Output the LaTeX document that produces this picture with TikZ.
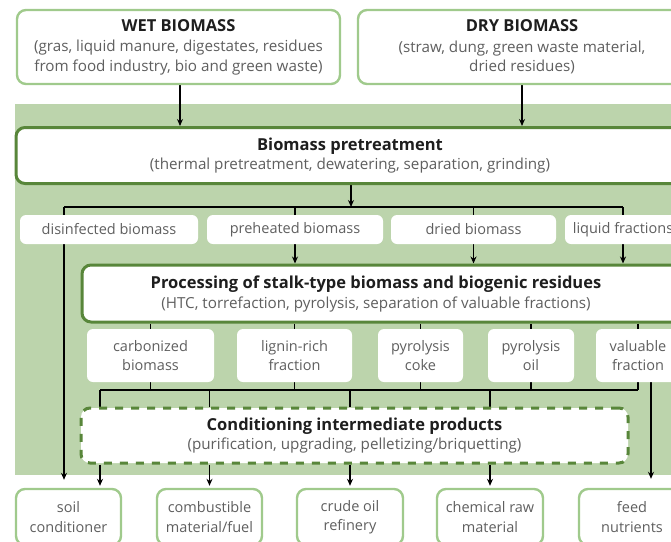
\documentclass[tikz,border=0pt]{standalone}
\usepackage{fontspec}
\setmainfont{Open Sans}
\usetikzlibrary{arrows.meta,calc}
\definecolor{bggreen}{RGB}{188,212,172}
\definecolor{dgreen}{RGB}{88,134,58}
\definecolor{lgreen}{RGB}{160,202,140}
\definecolor{tgray}{RGB}{95,95,95}
\definecolor{tdark}{RGB}{30,30,30}
\pgfdeclarelayer{back}
\pgfdeclarelayer{lines}
\pgfsetlayers{back,lines,main}
\newcommand{\tf}{\fontsize{16.5}{20}\selectfont\bfseries\color{tdark}}
\newcommand{\sfn}{\fontsize{15.2}{19.5}\selectfont\color{tgray}}
\newcommand{\lfn}{\fontsize{14.5}{19.5}\selectfont\color{tgray}}
\begin{document}
\begin{tikzpicture}[x=1pt,y=-1pt,
  srcbox/.style={draw=lgreen, line width=2.4pt, rounded corners=9pt, fill=white, align=center, inner sep=0pt, font=\sfn},
  prodbox/.style={srcbox, font=\lfn},
  mainbox/.style={draw=dgreen, line width=3pt, rounded corners=9pt, fill=white, align=center, inner sep=0pt, font=\sfn},
  condbox/.style={mainbox, dash pattern=on 8pt off 8pt},
  lbl/.style={fill=white, rounded corners=6pt, inner sep=0pt, align=center, font=\lfn},
  conn/.style={draw=black, line width=1.3pt},
  arr/.style={conn, -{Stealth[length=7pt,width=6pt]}}]
\useasboundingbox (0,0) rectangle (671,541);
\clip (0,0) rectangle (671,541);

% source boxes
\node[srcbox, minimum width=323pt, minimum height=74pt] (wet) at (178.5,47)
  {{\tf WET BIOMASS}\\[1pt](gras, liquid manure, digestates, residues\\from food industry, bio and green waste)};
\node[srcbox, minimum width=328pt, minimum height=74pt] (dry) at (522,47)
  {{\tf DRY BIOMASS}\\[1pt](straw, dung, green waste material,\\dried residues)};

% green background
\begin{pgfonlayer}{back}
\fill[bggreen] (15,104) rectangle (700,475);
\end{pgfonlayer}

% pretreatment
\node[mainbox, minimum width=668pt, minimum height=56pt] (pre) at (350,155.5)
  {{\tf Biomass pretreatment}\\(thermal pretreatment, dewatering, separation, grinding)};

% first label row
\node[lbl, minimum width=178pt, minimum height=29pt] (dis) at (109,229.5) {disinfected biomass};
\node[lbl, minimum width=176pt, minimum height=29pt] (preh) at (295,229.5) {preheated biomass};
\node[lbl, minimum width=165pt, minimum height=29pt] (dried) at (473.5,229.5) {dried biomass};
\node[lbl, minimum width=116pt, minimum height=29pt] (liq) at (623,229.5) {liquid fractions};

% processing
\node[mainbox, minimum width=620pt, minimum height=57pt] (proc) at (392,293.5) {};
\node[align=center, inner sep=0pt, font=\sfn] (proct) at (376,294)
  {{\tf Processing of stalk-type biomass and biogenic residues}\\(HTC, torrefaction, pyrolysis, separation of valuable fractions)};

% second label row
\node[lbl, minimum width=127pt, minimum height=53pt] (carb) at (150.5,355.5) {carbonized\\biomass};
\node[lbl, minimum width=115pt, minimum height=53pt] (lig) at (294.5,355.5) {lignin-rich\\fraction};
\node[lbl, minimum width=85pt, minimum height=53pt] (coke) at (420.5,355.5) {pyrolysis\\coke};
\node[lbl, minimum width=86pt, minimum height=53pt] (oil) at (531,355.5) {pyrolysis\\oil};
\node[lbl, minimum width=84pt, minimum height=53pt] (val) at (638,355.5) {valuable\\fraction};

% conditioning
\node[condbox, minimum width=547pt, minimum height=55pt] (cond) at (354.5,435.5)
  {{\tf Conditioning intermediate products}\\(purification, upgrading, pelletizing/briquetting)};

% products
\node[prodbox, minimum width=105pt, minimum height=56pt] (soil) at (68.5,517) {soil\\conditioner};
\node[prodbox, minimum width=105pt, minimum height=56pt] (comb) at (209.5,517) {combustible\\material/fuel};
\node[prodbox, minimum width=106pt, minimum height=56pt] (crude) at (350,517) {crude oil\\refinery};
\node[prodbox, minimum width=106pt, minimum height=56pt] (chem) at (490,517) {chemical raw\\material};
\node[prodbox, minimum width=106pt, minimum height=56pt] (feed) at (632,517) {feed\\nutrients};

% named junction points
\coordinate (w0) at (180,0);
\coordinate (f0) at (651,0);
\coordinate (s1) at (351,207);
\coordinate (s1l) at (64,207);
\coordinate (s1r) at (623,207);
\coordinate (s2) at (100,390);
\coordinate (s2r) at (638,390);

\begin{pgfonlayer}{lines}
\draw[arr] (wet.south -| w0) -- (pre.north -| w0);
\draw[arr] (dry.south) -- (dry.south |- pre.north);
\draw[arr] (pre.south -| s1) -- (s1);
\draw[conn] (s1l) -- (s1r);
\draw[arr] (s1l) -- ($(soil.north -| s1l)+(0,-8)$);
\draw[arr] (s1 -| preh) -- (preh |- proc.north);
\draw[arr] (s1 -| dried) -- (dried |- proc.north);
\draw[arr] (s1r) -- (s1r |- proc.north);
\draw[conn] (proc.south -| carb) -- (s2 -| carb);
\draw[conn] (proc.south -| lig) -- (s2 -| lig);
\draw[conn] (proc.south -| coke) -- (s2 -| coke);
\draw[conn] (proc.south -| oil) -- (s2 -| oil);
\draw[conn] (proc.south -| s2r) -- (s2r);
\draw[conn] (s2) -- (s2r);
\draw[conn] (s2) -- (s2 |- cond.north);
\draw[conn] (s2 -| comb) -- (comb |- cond.north);
\draw[conn] (s2 -| crude) -- (crude |- cond.north);
\draw[conn] (s2 -| chem) -- (chem |- cond.north);
\draw[arr] (cond.south -| s2) -- ($(soil.north -| s2)+(0,-2)$);
\draw[arr] (cond.south -| comb) -- ($(comb.north)+(0,-2)$);
\draw[arr] (cond.south -| crude) -- ($(crude.north)+(0,-2)$);
\draw[arr] (cond.south -| chem) -- ($(chem.north)+(0,-2)$);
\draw[arr] (val.south -| f0) -- ($(feed.north -| f0)+(0,-9)$);
\end{pgfonlayer}
\end{tikzpicture}
\end{document}
